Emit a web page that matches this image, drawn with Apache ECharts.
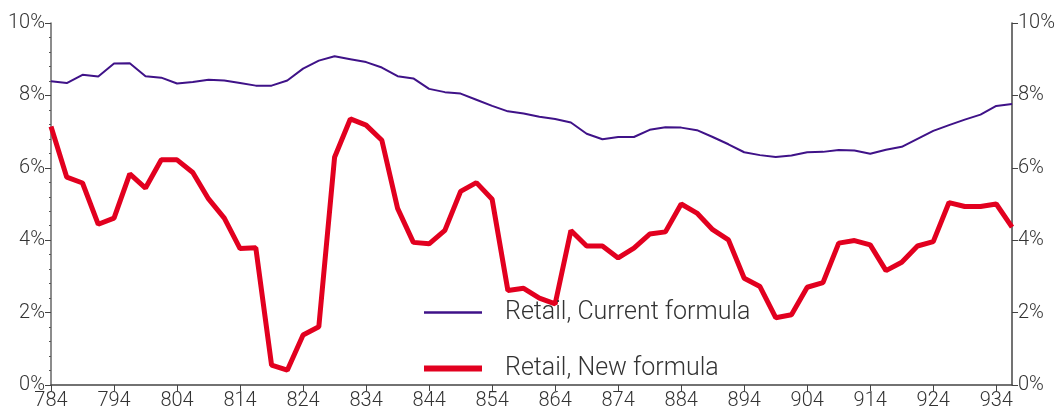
<!DOCTYPE html>
<html>
<head>
<meta charset="utf-8">
<script src="https://cdn.jsdelivr.net/npm/echarts@6/dist/echarts.min.js"></script>
<style>
html, body { margin: 0; padding: 0; background: #fff; }
#chart { width: 1058px; height: 419px; }
</style>
</head>
<body>
<div id="chart"></div>
<script>
// x categories, a label every 4th point
var categories = ['784', '786.5', '789', '791.5', '794', '796.5', '799', '801.5', '804', '806.5',
	'809', '811.5', '814', '816.5', '819', '821.5', '824', '826.5', '829', '831.5',
	'834', '836.5', '839', '841.5', '844', '846.5', '849', '851.5', '854', '856.5',
	'859', '861.5', '864', '866.5', '869', '871.5', '874', '876.5', '879', '881.5',
	'884', '886.5', '889', '891.5', '894', '896.5', '899', '901.5', '904', '906.5',
	'909', '911.5', '914', '916.5', '919', '921.5', '924', '926.5', '929', '931.5',
	'934', '936.5'];

var currentFormula = [8.39, 8.34, 8.57, 8.52, 8.88, 8.89, 8.53, 8.49, 8.33, 8.37,
	8.43, 8.41, 8.34, 8.27, 8.27, 8.41, 8.74, 8.96, 9.08, 9.00,
	8.92, 8.77, 8.53, 8.47, 8.18, 8.09, 8.05, 7.88, 7.71, 7.56,
	7.50, 7.41, 7.35, 7.25, 6.94, 6.79, 6.85, 6.85, 7.05, 7.12,
	7.11, 7.04, 6.85, 6.65, 6.43, 6.35, 6.30, 6.34, 6.43, 6.44,
	6.49, 6.48, 6.39, 6.50, 6.58, 6.80, 7.02, 7.18, 7.33, 7.47,
	7.71, 7.76];

var newFormula = [7.14, 5.74, 5.58, 4.44, 4.61, 5.83, 5.44, 6.22, 6.22, 5.87,
	5.14, 4.61, 3.77, 3.79, 0.55, 0.41, 1.38, 1.61, 6.29, 7.35,
	7.18, 6.76, 4.88, 3.94, 3.90, 4.27, 5.35, 5.59, 5.13, 2.61,
	2.67, 2.40, 2.24, 4.27, 3.84, 3.84, 3.51, 3.78, 4.17, 4.23,
	5.00, 4.75, 4.29, 4.01, 2.95, 2.72, 1.86, 1.94, 2.70, 2.83,
	3.92, 3.99, 3.87, 3.16, 3.39, 3.84, 3.96, 5.04, 4.93, 4.93,
	5.00, 4.36];

var yTicks = { min: 0, max: 10, interval: 2 };

var myChart = echarts.init(document.getElementById('chart'));
var font = 'Roboto, "Liberation Sans", sans-serif';
var axisColor = '#444';
var purple = '#3f1288';
var red = '#e2001f';

var option = {
	animation: false,
	grid: {
		left: 51,
		right: 45,
		top: 23,
		bottom: 34
	},
	legend: {
		orient: 'vertical',
		left: 416,
		top: 295,
		itemWidth: 58,
		itemHeight: 30,
		itemGap: 31,
		data: [
			{ name: 'Retail, Current formula', lineStyle: { width: 2.5, color: purple } },
			{ name: 'Retail, New formula', lineStyle: { width: 6, color: red } }
		],
		itemStyle: { opacity: 0 },
		textStyle: {
			fontFamily: font,
			fontSize: 25,
			fontWeight: 300,
			color: '#333',
			padding: [0, 0, 0, 18]
		}
	},
	xAxis: {
		type: 'category',
		data: categories,
		boundaryGap: false,
		axisLine: { lineStyle: { color: axisColor, width: 1.5 } },
		axisTick: { interval: 3, length: 6, lineStyle: { color: axisColor } },
		axisLabel: {
			interval: 3,
			margin: 6,
			fontFamily: font,
			fontSize: 20,
			fontWeight: 300,
			color: '#333'
		},
		splitLine: { show: false }
	},
	yAxis: [{
		type: 'value',
		position: 'left',
		min: yTicks.min,
		max: yTicks.max,
		interval: yTicks.interval,
		axisLine: { show: true, lineStyle: { color: '#666', width: 1.5 } },
		axisTick: { show: true, length: 6, lineStyle: { color: axisColor } },
		minorTick: { show: true, splitNumber: 5, length: 2, lineStyle: { color: '#555' } },
		axisLabel: {
			formatter: '{value}%',
			margin: 6,
			fontFamily: font,
			fontSize: 20,
			fontWeight: 300,
			color: '#333'
		},
		splitLine: { show: false }
	}, {
		type: 'value',
		position: 'right',
		min: yTicks.min,
		max: yTicks.max,
		interval: yTicks.interval,
		axisLine: { show: true, lineStyle: { color: axisColor, width: 1.5 } },
		axisTick: { show: true, length: 6, lineStyle: { color: axisColor } },
		axisLabel: {
			formatter: '{value}%',
			margin: 6,
			fontFamily: font,
			fontSize: 20,
			fontWeight: 300,
			color: '#333'
		},
		splitLine: { show: false }
	}],
	series: [{
		name: 'Retail, Current formula',
		type: 'line',
		data: currentFormula,
		symbol: 'none',
		lineStyle: { color: purple, width: 2 },
		itemStyle: { color: purple }
	}, {
		name: 'Retail, New formula',
		type: 'line',
		data: newFormula,
		symbol: 'none',
		lineStyle: { color: red, width: 5 },
		itemStyle: { color: red }
	}]
};

myChart.setOption(option);
</script>
</body>
</html>
